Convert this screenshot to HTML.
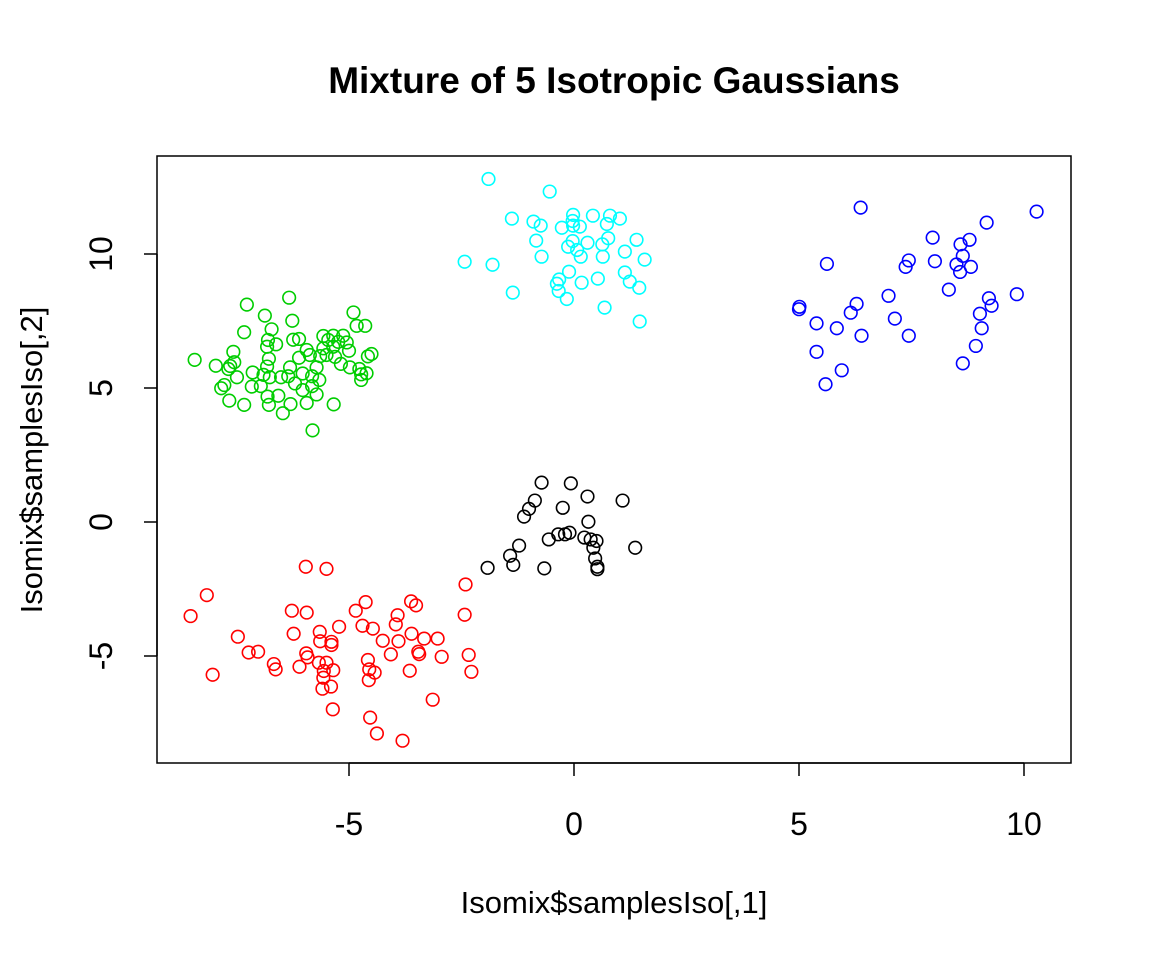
<!DOCTYPE html>
<html><head><meta charset="utf-8"><style>
html,body{margin:0;padding:0;background:#fff;}
svg{display:block;font-family:"Liberation Sans",Arial,sans-serif;}
</style></head><body>
<svg id="chart" width="1152" height="960" viewBox="0 0 1152 960">
<rect width="1152" height="960" fill="#fff"/>
<text x="614" y="93" text-anchor="middle" font-size="37" font-weight="bold">Mixture of 5 Isotropic Gaussians</text>
<rect x="157" y="156" width="914" height="607" fill="none" stroke="#000" stroke-width="1.5"/>
<g id="xaxis"></g>
<g id="yaxis"></g>
<g id="points"></g>
<text x="614" y="913" text-anchor="middle" font-size="31">Isomix$samplesIso[,1]</text>
<text transform="translate(42,460) rotate(-90)" text-anchor="middle" font-size="31">Isomix$samplesIso[,2]</text>
</svg>
<script>
const xTicks=[-5,0,5,10];
const yTicks=[-5,0,5,10];
const blackX=[-0.72,-0.07,0.30,1.08,-0.87,-1.00,-1.11,-0.25,0.32,-0.56,-0.35,-0.20,-0.10,0.23,0.37,0.50,0.43,-1.22,-1.42,-1.35,0.47,0.52,0.52,1.36,-1.92,-0.66];
const blackY=[1.47,1.44,0.95,0.80,0.80,0.49,0.20,0.53,0.01,-0.65,-0.46,-0.46,-0.40,-0.58,-0.65,-0.71,-0.96,-0.88,-1.26,-1.60,-1.36,-1.67,-1.76,-0.96,-1.71,-1.73];
const redX=[-5.96,-5.50,-8.16,-8.52,-2.41,-6.27,-5.94,-4.85,-4.63,-3.62,-3.51,-3.92,-3.96,-2.43,-5.22,-4.70,-4.47,-5.65,-6.23,-7.47,-5.64,-5.39,-5.39,-4.25,-3.90,-3.61,-3.33,-3.03,-7.23,-7.02,-5.95,-5.92,-6.67,-6.63,-6.10,-5.67,-5.50,-5.56,-5.35,-5.57,-4.58,-4.55,-4.43,-4.56,-4.07,-3.46,-3.44,-2.94,-2.34,-2.28,-3.65,-8.03,-5.59,-5.40,-5.36,-3.14,-4.53,-4.38,-3.81];
const redY=[-1.67,-1.75,-2.73,-3.51,-2.33,-3.31,-3.38,-3.31,-2.99,-2.96,-3.11,-3.48,-3.82,-3.46,-3.91,-3.87,-3.98,-4.10,-4.17,-4.28,-4.45,-4.47,-4.59,-4.43,-4.45,-4.17,-4.35,-4.35,-4.87,-4.84,-4.90,-5.05,-5.30,-5.50,-5.40,-5.25,-5.25,-5.56,-5.53,-5.81,-5.15,-5.50,-5.62,-5.90,-4.94,-4.84,-4.93,-5.03,-4.96,-5.59,-5.55,-5.70,-6.22,-6.14,-6.99,-6.63,-7.30,-7.89,-8.16];
const greenX=[-6.33,-7.27,-6.87,-6.26,-4.90,-4.83,-4.64,-7.33,-6.72,-6.80,-6.62,-6.82,-6.24,-6.11,-5.57,-5.35,-5.13,-5.46,-5.24,-5.05,-5.94,-5.57,-5.35,-5.00,-5.87,-5.64,-5.50,-5.31,-6.11,-4.58,-4.50,-8.43,-7.57,-7.96,-7.64,-7.55,-7.68,-6.78,-6.82,-6.31,-5.72,-5.18,-4.98,-4.77,-7.14,-7.49,-6.90,-6.76,-6.51,-6.35,-6.03,-5.82,-5.66,-4.73,-4.61,-4.73,-7.77,-7.84,-7.16,-6.96,-6.20,-6.03,-5.82,-6.81,-6.57,-5.72,-7.66,-7.33,-6.78,-6.30,-5.94,-5.34,-6.47,-5.81];
const greenY=[8.37,8.11,7.70,7.51,7.82,7.32,7.32,7.08,7.19,6.79,6.63,6.54,6.80,6.83,6.94,6.95,6.95,6.79,6.72,6.70,6.42,6.48,6.54,6.39,6.23,6.19,6.23,6.16,6.13,6.18,6.27,6.05,6.35,5.83,5.82,5.96,5.71,6.09,5.80,5.77,5.77,5.90,5.77,5.71,5.58,5.40,5.49,5.40,5.40,5.44,5.54,5.44,5.30,5.51,5.55,5.30,5.11,4.99,5.05,5.07,5.17,4.92,5.07,4.68,4.71,4.76,4.53,4.37,4.37,4.40,4.44,4.39,4.06,3.42];
const blueX=[6.37,10.28,9.17,7.97,8.79,8.59,8.64,5.62,7.44,7.37,8.02,8.50,8.82,8.58,8.33,6.99,9.84,9.22,9.28,5.01,5.00,6.28,6.15,9.02,7.13,5.39,5.84,9.06,6.39,7.44,8.93,5.39,8.64,5.95,5.59];
const blueY=[11.73,11.58,11.17,10.61,10.53,10.36,9.93,9.63,9.76,9.52,9.73,9.61,9.52,9.33,8.67,8.44,8.50,8.35,8.07,8.03,7.94,8.14,7.81,7.77,7.59,7.41,7.23,7.23,6.95,6.95,6.57,6.35,5.92,5.66,5.14];
const cyanX=[-1.90,-0.54,-1.38,-0.90,-0.74,-0.27,-0.02,-0.03,-0.02,0.13,0.42,0.80,1.02,0.73,1.39,0.76,0.63,0.30,-0.03,-0.13,0.07,0.15,0.64,1.13,1.57,-0.84,-0.72,-2.43,-1.81,-0.11,-0.33,-0.38,-0.34,0.17,0.53,1.13,1.24,1.45,-1.36,-0.16,0.68,1.46];
const cyanY=[12.80,12.33,11.32,11.21,11.06,10.98,11.46,11.23,11.06,11.02,11.43,11.43,11.32,11.12,10.53,10.59,10.36,10.42,10.48,10.27,10.15,9.90,9.90,10.09,9.79,10.50,9.90,9.71,9.60,9.34,9.05,8.89,8.62,8.93,9.08,9.31,8.97,8.74,8.56,8.32,8.00,7.48];

const NS="http://www.w3.org/2000/svg";
function sx(v){return 574+45*v;}
function sy(v){return 522-26.8*v;}
function mk(tag,attrs,parent){const e=document.createElementNS(NS,tag);for(const k in attrs)e.setAttribute(k,attrs[k]);parent.appendChild(e);return e;}
const xa=document.getElementById('xaxis'),ya=document.getElementById('yaxis'),pl=document.getElementById('points');
mk('line',{x1:sx(xTicks[0]),x2:sx(xTicks[xTicks.length-1]),y1:763,y2:763,stroke:'#000','stroke-width':1.5},xa);
xTicks.forEach(t=>{
  const l=mk('line',{x1:sx(t),x2:sx(t),y1:763,y2:776,stroke:'#000','stroke-width':1.5},xa);
  
  
  const tx=mk('text',{x:sx(t),y:835,'text-anchor':'middle','font-size':32},xa);
  tx.textContent=t;
  
  
});
mk('line',{x1:157,x2:157,y1:sy(yTicks[0]),y2:sy(yTicks[yTicks.length-1]),stroke:'#000','stroke-width':1.5},ya);
yTicks.forEach(t=>{
  const l=mk('line',{x1:144,x2:157,y1:sy(t),y2:sy(t),stroke:'#000','stroke-width':1.5},ya);
  
  
  const tx=mk('text',{transform:'translate(112,'+sy(t)+') rotate(-90)','text-anchor':'middle','font-size':32},ya);
  tx.textContent=t;
  
  
});
function series(xs,ys,col,name){
  const g=mk('g',{},pl);
  
  
  xs.forEach((x,i)=>{
    const c=mk('circle',{cx:sx(x),cy:sy(ys[i]),r:6.3,fill:'none',stroke:col,'stroke-width':1.6},g);
    
    
  });
}
series(blackX,blackY,'#000000','black');
series(redX,redY,'#FF0000','red');
series(greenX,greenY,'#00CD00','green');
series(blueX,blueY,'#0000FF','blue');
series(cyanX,cyanY,'#00FFFF','cyan');
</script>
</body></html>
